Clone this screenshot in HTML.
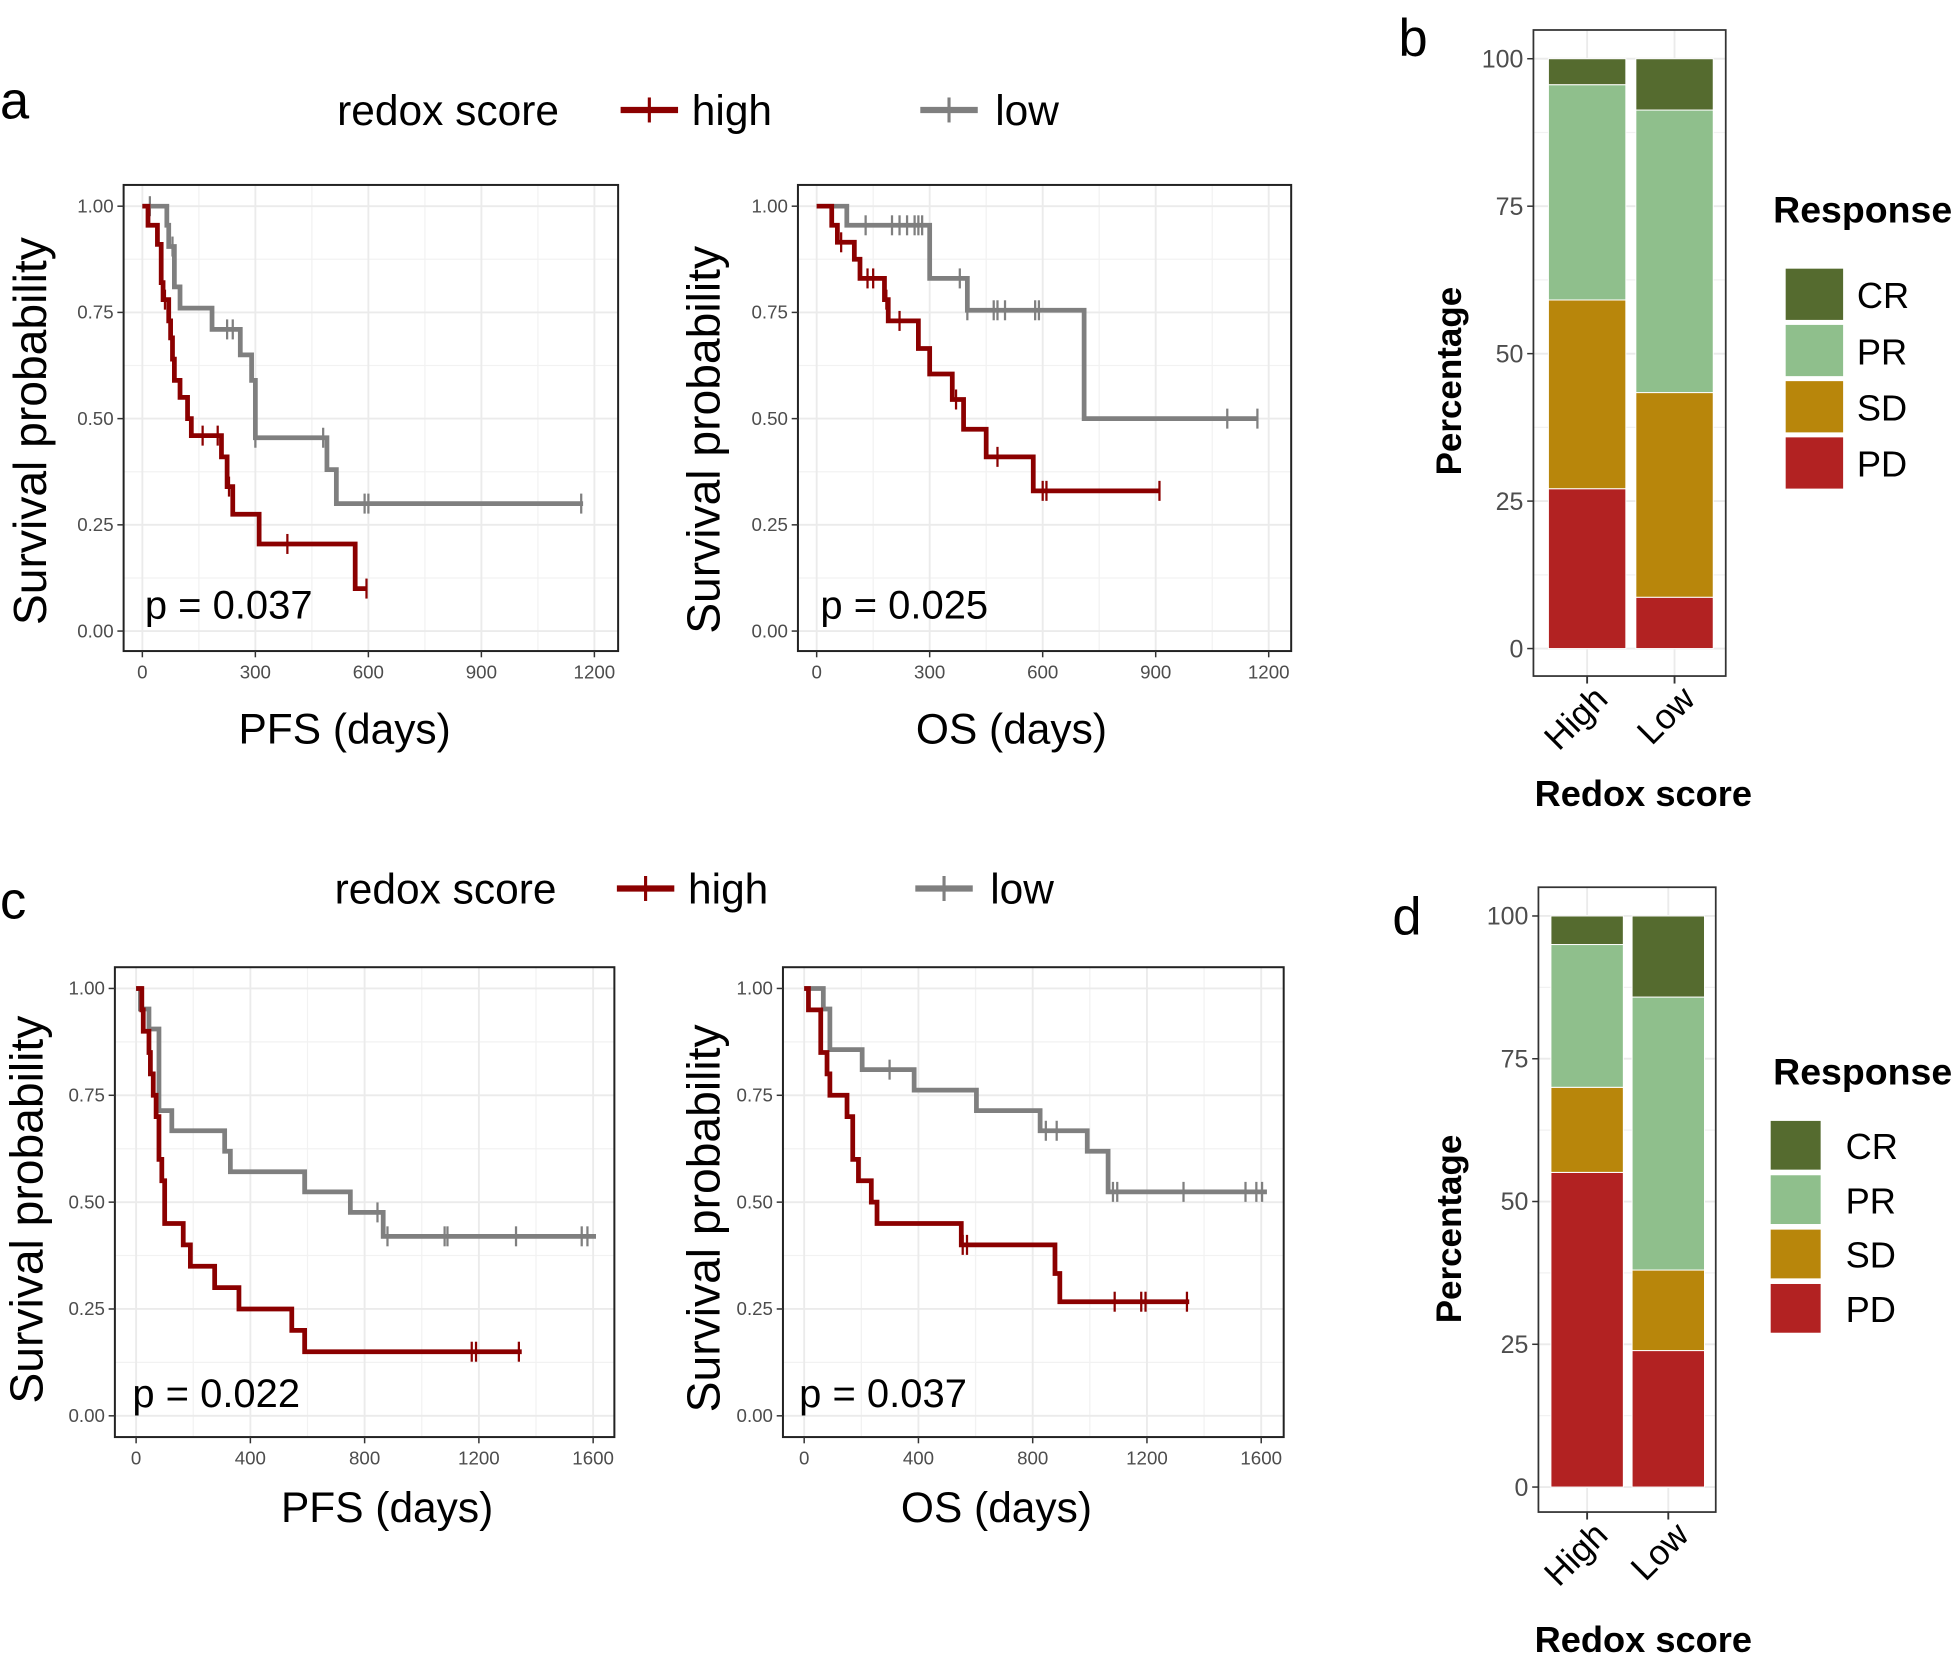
<!DOCTYPE html>
<html><head><meta charset="utf-8"><style>
html,body{margin:0;padding:0;background:#fff;}
svg{display:block;}
text{font-family:"Liberation Sans","DejaVu Sans",sans-serif;}
</style></head><body>
<svg id="fig" width="1958" height="1662" viewBox="0 0 1568 1330" preserveAspectRatio="none" xmlns="http://www.w3.org/2000/svg"></svg>
<script>
// ---- Data: KM step curves (times = event times, surv = survival after event), censor times ----
const aPfsHighT=[15,40,50,55,70,75,80,85,100,120,130,210,225,240,310,565];
const aPfsHighS=[0.955,0.91,0.82,0.78,0.73,0.69,0.64,0.59,0.55,0.50,0.46,0.41,0.34,0.275,0.205,0.10];
const aPfsHighC=[60,160,200,230,385,595];
const aPfsHighEnd=595;
const aPfsLowT=[65,70,85,100,185,260,290,300,490,515];
const aPfsLowS=[0.955,0.905,0.81,0.76,0.71,0.65,0.59,0.455,0.38,0.30];
const aPfsLowC=[20,80,225,240,300,480,590,600,1165];
const aPfsLowEnd=1170;

const aOsHighT=[40,55,100,115,180,190,270,300,360,390,450,575];
const aOsHighS=[0.955,0.915,0.875,0.83,0.78,0.73,0.665,0.605,0.545,0.475,0.41,0.33];
const aOsHighC=[65,135,150,185,220,370,480,600,610,910];
const aOsHighEnd=910;
const aOsLowT=[80,300,400,710];
const aOsLowS=[0.955,0.83,0.755,0.50];
const aOsLowC=[130,200,220,240,260,270,280,380,400,470,480,500,580,590,1090,1170];
const aOsLowEnd=1170;

const cPfsHighT=[20,25,45,50,60,70,80,90,100,165,190,275,360,545,590];
const cPfsHighS=[0.95,0.90,0.85,0.80,0.75,0.70,0.60,0.55,0.45,0.40,0.35,0.30,0.25,0.20,0.15];
const cPfsHighC=[1175,1190,1340];
const cPfsHighEnd=1350;
const cPfsLowT=[15,45,80,125,310,330,590,750,865];
const cPfsLowS=[0.952,0.905,0.714,0.667,0.619,0.571,0.524,0.476,0.42];
const cPfsLowC=[845,880,1080,1090,1330,1560,1580];
const cPfsLowEnd=1610;

const cOsHighT=[15,58,80,90,150,170,190,235,255,550,878,895];
const cOsHighS=[0.95,0.85,0.80,0.75,0.70,0.60,0.55,0.50,0.45,0.40,0.333,0.267];
const cOsHighC=[555,570,1087,1180,1195,1340];
const cOsHighEnd=1348;
const cOsLowT=[67,90,203,385,603,826,991,1064];
const cOsLowS=[0.952,0.857,0.81,0.762,0.714,0.667,0.619,0.524];
const cOsLowC=[299,846,884,1081,1096,1328,1545,1583,1603];
const cOsLowEnd=1620;

const xTicksA=[0,300,600,900,1200];
const xTicksC=[0,400,800,1200,1600];
const yTicksKM=[0,0.25,0.5,0.75,1];
const yTickLabelsKM=["0.00","0.25","0.50","0.75","1.00"];

// ---- Bar data (percent) ----
const barGroups=["High","Low"];
const responseCats=["PD","SD","PR","CR"];
const bPD=[27.1,8.7];
const bSD=[32.0,34.7];
const bPR=[36.5,47.9];
const bCR=[4.4,8.7];
const dPD=[55.1,23.9];
const dSD=[14.9,14.1];
const dPR=[25.0,47.8];
const dCR=[5.0,14.2];
const barTicks=[0,25,50,75,100];
const respColors={PD:"#b22222",SD:"#b8860b",PR:"#8fbf8c",CR:"#556b2f"};

const NS="http://www.w3.org/2000/svg";
const svg=document.getElementById('fig');
function mk(tag,attrs,parent){const e=document.createElementNS(NS,tag);for(const k in attrs)e.setAttribute(k,attrs[k]);(parent||svg).appendChild(e);return e;}
function txt(s,attrs,parent){const e=mk('text',attrs,parent);e.textContent=s;return e;}

function kmPanel(name,box,x0,x1,xmax,y1,y0,xticks,curves,pText,pPos,xTitle,xTitlePos,yTitlePos){
  const g=mk('g',{});
  
  
  const xs=v=>x0+(x1-x0)*v/xmax;
  const ys=v=>y0+(y1-y0)*v;
  const step=xticks[1]-xticks[0];
  for(let v=step/2;v<=xmax+step/2;v+=step){const X=xs(v);if(X<box[2])mk('line',{x1:X,x2:X,y1:box[1],y2:box[3],stroke:'#f2f2f2','stroke-width':1},g);}
  for(let v=0.125;v<1.1;v+=0.25)mk('line',{x1:box[0],x2:box[2],y1:ys(v),y2:ys(v),stroke:'#f2f2f2','stroke-width':1},g);
  xticks.forEach(v=>mk('line',{x1:xs(v),x2:xs(v),y1:box[1],y2:box[3],stroke:'#ebebeb','stroke-width':1.5},g));
  yTicksKM.forEach(v=>mk('line',{x1:box[0],x2:box[2],y1:ys(v),y2:ys(v),stroke:'#ebebeb','stroke-width':1.5},g));
  curves.forEach(c=>{
    let d='M'+xs(0)+','+ys(1);
    c.t.forEach((t,i)=>{d+=' H'+xs(t)+' V'+ys(c.s[i]);});
    d+=' H'+xs(c.end);
    const p=mk('path',{d:d,fill:'none',stroke:c.col,'stroke-width':3.8},g);
    
    
    c.c.forEach(ct=>{
      let sv=1;c.t.forEach((t,i)=>{if(t<=ct)sv=c.s[i];});
      const m=mk('line',{x1:xs(ct),x2:xs(ct),y1:ys(sv)-8,y2:ys(sv)+8,stroke:c.col,'stroke-width':1.8},g);
      
      
    });
  });
  mk('rect',{x:box[0],y:box[1],width:box[2]-box[0],height:box[3]-box[1],fill:'none',stroke:'#222','stroke-width':1.6},g);
  xticks.forEach(v=>{mk('line',{x1:xs(v),x2:xs(v),y1:box[3],y2:box[3]+5,stroke:'#333','stroke-width':1.2},g);
    txt(String(v),{x:xs(v),y:box[3]+22,'font-size':15,fill:'#4d4d4d','text-anchor':'middle'},g);});
  yTicksKM.forEach((v,i)=>{mk('line',{x1:box[0]-5,x2:box[0],y1:ys(v),y2:ys(v),stroke:'#333','stroke-width':1.2},g);
    txt(yTickLabelsKM[i],{x:box[0]-8,y:ys(v)+5,'font-size':15,fill:'#4d4d4d','text-anchor':'end'},g);});
  const pt=txt(pText,{x:pPos[0],y:pPos[1],'font-size':32,fill:'#000'},g);
  
  const xt=txt(xTitle,{x:xTitlePos[0],y:xTitlePos[1],'font-size':34,'text-anchor':'middle'},g);
  
  const yt=txt('Survival probability',{x:0,y:0,'font-size':37,'text-anchor':'middle',transform:'translate('+yTitlePos[0]+','+yTitlePos[1]+') rotate(-90)'},g);
  
}
const RED='#8b0000',GRAY='#7f7f7f';
kmPanel('km-a-pfs',[99,148,495,521],114,476,1200,165,505,xTicksA,[
 {name:'low',t:aPfsLowT,s:aPfsLowS,c:aPfsLowC,end:aPfsLowEnd,col:GRAY},
 {name:'high',t:aPfsHighT,s:aPfsHighS,c:aPfsHighC,end:aPfsHighEnd,col:RED}],
 'p = 0.037',[116,495],'PFS (days)',[276,595],[37,345]);
kmPanel('km-a-os',[639,148,1034,521],654,1016,1200,165,505,xTicksA,[
 {name:'low',t:aOsLowT,s:aOsLowS,c:aOsLowC,end:aOsLowEnd,col:GRAY},
 {name:'high',t:aOsHighT,s:aOsHighS,c:aOsHighC,end:aOsHighEnd,col:RED}],
 'p = 0.025',[657,495],'OS (days)',[810,595],[576,352]);
kmPanel('km-c-pfs',[92,774,492,1150],109,475,1600,791,1133,xTicksC,[
 {name:'low',t:cPfsLowT,s:cPfsLowS,c:cPfsLowC,end:cPfsLowEnd,col:GRAY},
 {name:'high',t:cPfsHighT,s:cPfsHighS,c:cPfsHighC,end:cPfsHighEnd,col:RED}],
 'p = 0.022',[106,1126],'PFS (days)',[310,1218],[34,968]);
kmPanel('km-c-os',[627,774,1028,1150],644,1010,1600,791,1133,xTicksC,[
 {name:'low',t:cOsLowT,s:cOsLowS,c:cOsLowC,end:cOsLowEnd,col:GRAY},
 {name:'high',t:cOsHighT,s:cOsHighS,c:cOsHighC,end:cOsHighEnd,col:RED}],
 'p = 0.037',[640,1126],'OS (days)',[798,1218],[576,975]);

function legendKM(name,y,xs){
  const g=mk('g',{});
  
  txt('redox score',{x:xs[0],y:y+12,'font-size':34},g);
  mk('line',{x1:xs[1],x2:xs[1]+46,y1:y,y2:y,stroke:RED,'stroke-width':5},g);
  mk('line',{x1:xs[1]+23,x2:xs[1]+23,y1:y-10,y2:y+10,stroke:RED,'stroke-width':2.5},g);
  txt('high',{x:xs[1]+57,y:y+12,'font-size':34},g);
  mk('line',{x1:xs[2],x2:xs[2]+46,y1:y,y2:y,stroke:GRAY,'stroke-width':5},g);
  mk('line',{x1:xs[2]+23,x2:xs[2]+23,y1:y-10,y2:y+10,stroke:GRAY,'stroke-width':2.5},g);
  txt('low',{x:xs[2]+60,y:y+12,'font-size':34},g);
}
legendKM('legend-a',88,[270,497,737]);
legendKM('legend-c',711,[268,494,733]);

function barPanel(name,box,y0,y100,bars,series,legX,legY,legKeyW,legKeyH,legGap,legLabelX,respY,titleY){
  const g=mk('g',{});
  
  const ys=v=>y0+(y100-y0)*v/100;
  for(let v=12.5;v<100;v+=25)mk('line',{x1:box[0],x2:box[2],y1:ys(v),y2:ys(v),stroke:'#f2f2f2','stroke-width':1},g);
  barTicks.forEach(v=>mk('line',{x1:box[0],x2:box[2],y1:ys(v),y2:ys(v),stroke:'#ebebeb','stroke-width':1.5},g));
  bars.forEach(b=>mk('line',{x1:(b[0]+b[1])/2,x2:(b[0]+b[1])/2,y1:box[1],y2:box[3],stroke:'#ebebeb','stroke-width':1.5},g));
  bars.forEach((b,gi)=>{
    let cum=0;
    responseCats.forEach(cat=>{
      const v=series[cat][gi];
      const r=mk('rect',{x:b[0],y:ys(cum+v),width:b[1]-b[0],height:ys(cum)-ys(cum+v),fill:respColors[cat],stroke:'#fff','stroke-width':0.8},g);
      
      
      cum+=v;
    });
    const cx=(b[0]+b[1])/2;
    mk('line',{x1:cx,x2:cx,y1:box[3],y2:box[3]+6,stroke:'#333','stroke-width':1.5},g);
    txt(barGroups[gi],{x:0,y:0,'font-size':28,'text-anchor':'end',fill:'#000',transform:'translate('+(cx+18)+','+(box[3]+20)+') rotate(-45)'},g);
  });
  mk('rect',{x:box[0],y:box[1],width:box[2]-box[0],height:box[3]-box[1],fill:'none',stroke:'#333','stroke-width':1.4},g);
  barTicks.forEach(v=>{mk('line',{x1:box[0]-5,x2:box[0],y1:ys(v),y2:ys(v),stroke:'#333','stroke-width':1.2},g);
    txt(String(v),{x:box[0]-8,y:ys(v)+7,'font-size':20,fill:'#4d4d4d','text-anchor':'end'},g);});
  const yt=txt('Percentage',{x:0,y:0,'font-size':28,'font-weight':'bold','text-anchor':'middle',transform:'translate(1170,'+((y0+y100)/2+22)+') rotate(-90)'},g);
  
  const xt=txt('Redox score',{x:1316,y:titleY,'font-size':29,'font-weight':'bold','text-anchor':'middle'},g);
  
  const lt=txt('Response',{x:1420,y:respY,'font-size':30,'font-weight':'bold'},g);
  
  ['CR','PR','SD','PD'].forEach((cat,i)=>{
    const yy=legY+i*legGap;
    const k=mk('rect',{x:legX,y:yy,width:legKeyW,height:legKeyH,fill:respColors[cat]},g);
    
    txt(cat,{x:legLabelX,y:yy+legKeyH/2+11,'font-size':29},g);
  });
}
barPanel('bar-chart-b',[1228,24,1382,541],519,47,[[1240,1302],[1310,1372]],{PD:bPD,SD:bSD,PR:bPR,CR:bCR},1430,215,46,41,45,1487,178,645);
barPanel('bar-chart-d',[1232,710,1374,1210],1190,733,[[1242,1300],[1307,1365]],{PD:dPD,SD:dSD,PR:dPR,CR:dCR},1418,897,40,39,43.5,1478,868,1322);

[['a',0,95],['b',1120,45],['c',0,735],['d',1115,748]].forEach(l=>{
  const t=txt(l[0],{x:l[1],y:l[2],'font-size':42},svg);
  
  
});
</script>
</body></html>
